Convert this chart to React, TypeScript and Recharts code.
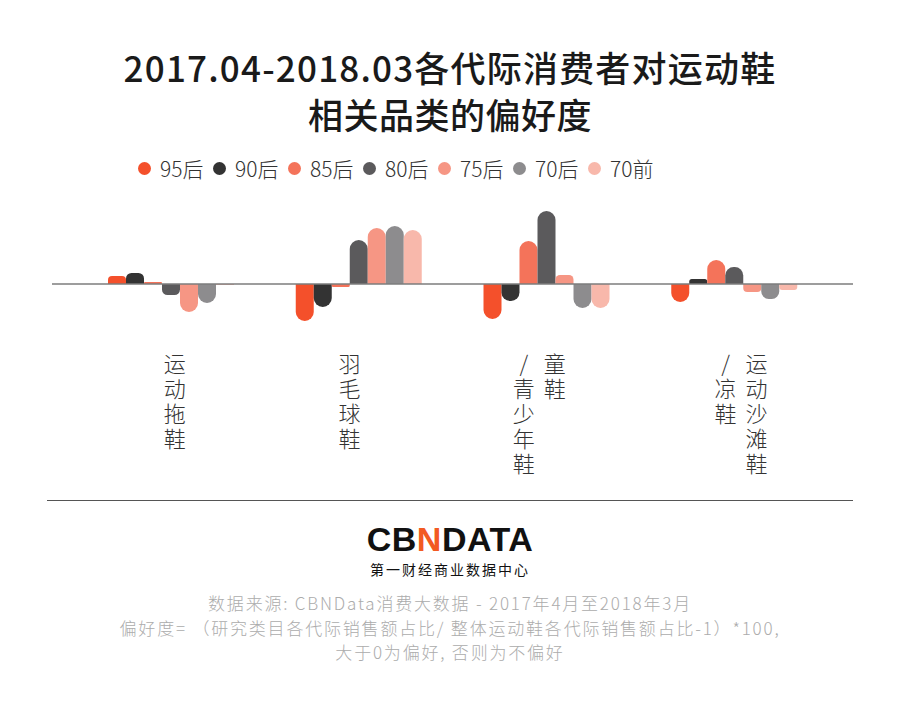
import React from 'react';
import { BarChart, Bar, XAxis, YAxis, ReferenceLine } from 'recharts';

const categories = ['运动拖鞋', '羽毛球鞋', '童鞋/青少年鞋', '运动沙滩鞋/凉鞋'];
const generations = ['95后', '90后', '85后', '80后', '75后', '70后', '70前'];
const colors = ['#f4502b', '#333333', '#f4735a', '#5b5a5c', '#f69684', '#8d8c8e', '#f8b8ab'];

// preference per generation, one array per category
const slippers = [8, 11, 2, -11, -28, -19, -1];
const badminton = [-37, -23, -3, 44, 56, 58, 54];
const kidsShoes = [-35, -17, 43, 73, 9, -24, -24];
const sandals = [-18, 5, 24, 17, -8, -15, -6];

const FONT = "'Noto Sans CJK SC', 'Noto Sans', sans-serif";
// the labels in the original aren't exactly centred under their groups
const LABEL_NUDGE = [4, -9, -7, 7];

const rows = [slippers, badminton, kidsShoes, sandals];
const data = categories.map((name, i) => {
  const row: Record<string, any> = { name };
  generations.forEach((g, j) => {
    row[g] = rows[i][j];
  });
  return row;
});

// vertical labels: one <text> per column, one tspan per glyph, columns read right to left
const VerticalTick = (props: any) => {
  const { x, y, payload, index } = props;
  const text: string = payload.value;
  const cut = text.indexOf('/');
  const cols = cut < 0 ? [text] : [text.slice(0, cut), text.slice(cut)];
  const colGap = 31;
  const nudge = LABEL_NUDGE[index] || 0;
  return (
    <g>
      {cols.map((col, ci) => {
        const cx = x + nudge + ((cols.length - 1) / 2 - ci) * colGap;
        return (
          <text key={ci} textAnchor="middle" fontSize={22} fontWeight={300} fill="#333" fontFamily={FONT}>
            {col.split('').map((ch, k) => (
              <tspan key={k} x={cx} y={y + 48 + k * 25}>
                {ch}
              </tspan>
            ))}
          </text>
        );
      })}
    </g>
  );
};

const App = () => {
  return (
    <div style={{ position: 'absolute', left: 0, top: 0, width: 900, height: 709, background: '#fff', fontFamily: FONT, overflow: 'hidden' }}>
      <div style={{ position: 'absolute', top: 43, left: 0, width: 900, textAlign: 'center', fontSize: 35, fontWeight: 500, color: '#1a1a1a', lineHeight: '47px', letterSpacing: 1.2 }}>
        <div>2017.04-2018.03各代际消费者对运动鞋</div>
        <div style={{ letterSpacing: 0.5 }}>相关品类的偏好度</div>
      </div>

      <div style={{ position: 'absolute', top: 155, left: 0, width: 900, height: 26 }}>
        {generations.map((g, i) => (
          <div key={g} style={{ position: 'absolute', left: 138 + i * 75, top: 0, display: 'flex', alignItems: 'center', height: 26 }}>
            <span style={{ width: 13, height: 13, borderRadius: 7, background: colors[i], display: 'inline-block' }} />
            <span style={{ marginLeft: 9, fontSize: 21, fontWeight: 300, color: '#333' }}>{g}</span>
          </div>
        ))}
      </div>

      <div style={{ position: 'absolute', left: 0, top: 0 }}>
        <BarChart width={900} height={500} data={data} margin={{ top: 204, right: 47, bottom: 26, left: 52 }} barSize={18} barGap={0}>
          <XAxis
            dataKey="name"
            height={150}
            interval={0}
            axisLine={false}
            tickLine={false}
            tickSize={0}
            tickMargin={0}
            padding={{ left: 25, right: 25 }}
            tick={<VerticalTick />}
          />
          <YAxis hide domain={[-40, 80]} allowDataOverflow />
          {generations.map((g, i) => (
            <Bar key={g} dataKey={g} fill={colors[i]} radius={[9, 9, 0, 0]} isAnimationActive={false} />
          ))}
          <ReferenceLine y={0} stroke="#7d7d7d" strokeWidth={1.5} />
        </BarChart>
      </div>

      <div style={{ position: 'absolute', top: 500, left: 47, width: 806, height: 1, background: '#555' }} />

      <div style={{ position: 'absolute', top: 520, left: 0, width: 900, textAlign: 'center', fontFamily: "'Liberation Sans', Arial, sans-serif", fontSize: 34, fontWeight: 700, color: '#111', lineHeight: '38px', letterSpacing: 0.5 }}>
        CB<span style={{ color: '#f25a22' }}>N</span>DATA
      </div>
      <div style={{ position: 'absolute', top: 560, left: 0, width: 900, textAlign: 'center', fontSize: 14, color: '#111', lineHeight: '18px', letterSpacing: 2 }}>
        第一财经商业数据中心
      </div>

      <div style={{ position: 'absolute', top: 591, left: 0, width: 900, textAlign: 'center', fontSize: 17, fontWeight: 300, color: '#acacac', lineHeight: '24.5px', letterSpacing: 1.8 }}>
        <div>数据来源: CBNData消费大数据 - 2017年4月至2018年3月</div>
        <div>偏好度=  （研究类目各代际销售额占比/ 整体运动鞋各代际销售额占比-1）*100,</div>
        <div>大于0为偏好, 否则为不偏好</div>
      </div>
    </div>
  );
};

export default App;
